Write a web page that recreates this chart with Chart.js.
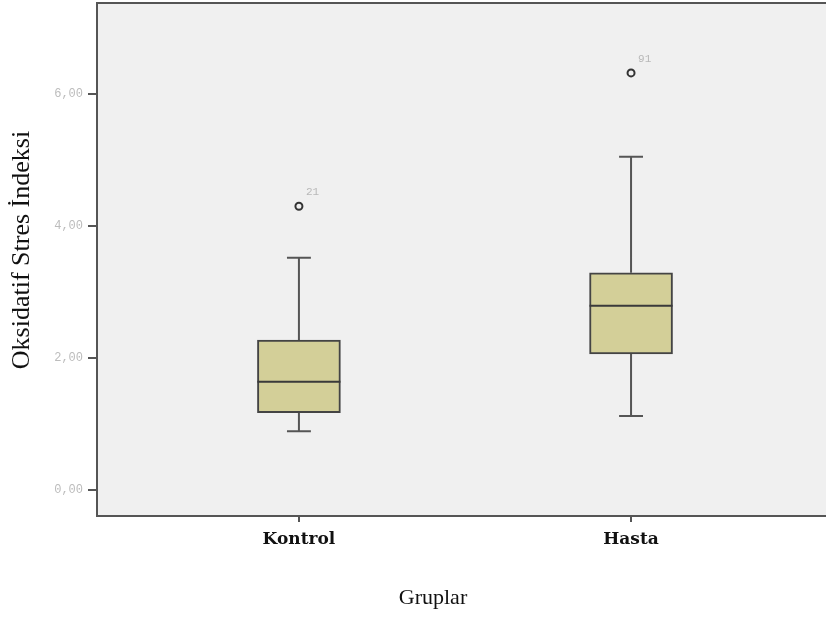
<!DOCTYPE html>
<html>
<head>
<meta charset="utf-8">
<script src="https://cdn.jsdelivr.net/npm/chart.js"></script>
<style>
  html, body { margin: 0; padding: 0; background: #fff; }
  #wrap { width: 826px; height: 619px; }
</style>
</head>
<body>
<div id="wrap"><canvas id="box"></canvas></div>
<script>
// Values
const categories = ["Kontrol", "Hasta"];
const whiskerLow = [0.89, 1.12];
const q1 = [1.17, 2.06];
const median = [1.64, 2.79];
const q3 = [2.27, 3.29];
const whiskerHigh = [3.52, 5.05];
const outliers = [4.30, 6.32];
const outlierIds = ["21", "91"];
const yTicks = [0, 2, 4, 6];

const xPos = categories.map((c, i) => i + 1);
const boxHalf = 0.125;   // half box width, x units
const capHalf = 0.036;   // half whisker cap width

// build segment lists with gaps between them
function segments(fn) {
    const out = [];
    xPos.forEach((x, i) => {
        fn(x, i).forEach(p => out.push(p));
        out.push({ x: x + 0.5, y: null });
    });
    return out;
}

const stems = segments((x, i) => [{ x: x, y: whiskerLow[i] }, { x: x, y: q1[i] }])
    .concat(segments((x, i) => [{ x: x, y: q3[i] }, { x: x, y: whiskerHigh[i] }]));
const caps = segments((x, i) => [{ x: x - capHalf, y: whiskerLow[i] }, { x: x + capHalf, y: whiskerLow[i] }])
    .concat(segments((x, i) => [{ x: x - capHalf, y: whiskerHigh[i] }, { x: x + capHalf, y: whiskerHigh[i] }]));
const medians = segments((x, i) => [{ x: x - boxHalf, y: median[i] }, { x: x + boxHalf, y: median[i] }]);

const plotBg = {
    id: "plotBg",
    beforeDraw(chart) {
        const { ctx, chartArea: a } = chart;
        ctx.save();
        ctx.fillStyle = "#f0f0f0";
        ctx.fillRect(a.left, a.top, a.right - a.left, a.bottom - a.top);
        ctx.strokeStyle = "#555";
        ctx.lineWidth = 2;
        ctx.beginPath();
        ctx.moveTo(a.left, a.top);
        ctx.lineTo(a.right, a.top);
        ctx.stroke();
        ctx.restore();
    },
    afterDraw(chart) {
        const { ctx } = chart;
        ctx.save();
        // outlier case numbers
        const meta = chart.getDatasetMeta(4);
        ctx.font = "11px 'Liberation Mono', monospace";
        ctx.fillStyle = "#b8b8b8";
        ctx.textBaseline = "middle";
        meta.data.forEach((pt, i) => {
            ctx.fillText(outlierIds[i], pt.x + 7, pt.y - 14);
        });
        // axis titles
        ctx.fillStyle = "#111";
        ctx.textAlign = "center";
        ctx.font = "22px 'Liberation Serif', serif";
        ctx.fillText("Gruplar", 433, 598);
        ctx.translate(22, 250);
        ctx.rotate(-Math.PI / 2);
        ctx.font = "26px 'Liberation Serif', serif";
        ctx.fillText("Oksidatif Stres İndeksi", 0, 0);
        ctx.restore();
    }
};

new Chart(document.getElementById("box"), {
    data: {
        datasets: [
            {
                type: "line", data: stems, borderColor: "#555", borderWidth: 2,
                pointRadius: 0, spanGaps: false, order: 4
            },
            {
                type: "line", data: caps, borderColor: "#555", borderWidth: 2,
                pointRadius: 0, spanGaps: false, order: 3
            },
            {
                type: "bar",
                data: xPos.map((x, i) => ({ x: x, y: [q1[i], q3[i]] })),
                backgroundColor: "#d3cf98", borderColor: "#444", borderWidth: 2,
                borderSkipped: false, barThickness: 83, grouped: false, order: 2
            },
            {
                type: "line", data: medians, borderColor: "#3a3a3a", borderWidth: 2,
                pointRadius: 0, spanGaps: false, order: 1
            },
            {
                type: "scatter",
                data: xPos.map((x, i) => ({ x: x, y: outliers[i] })),
                pointStyle: "circle", pointRadius: 3.5, borderWidth: 2,
                borderColor: "#333", backgroundColor: "#f0f0f0", order: 0
            }
        ]
    },
    options: {
        responsive: true,
        maintainAspectRatio: false,
        animation: false,
        layout: { autoPadding: false, padding: { top: 3, right: 0, bottom: 0, left: 0 } },
        plugins: { legend: { display: false }, tooltip: { enabled: false } },
        scales: {
            x: {
                type: "linear", min: 0.392, max: 2.587, offset: false,
                afterBuildTicks: s => { s.ticks = xPos.map(v => ({ value: v })); },
                afterFit: s => { s.height = 103; s.paddingLeft = 0; s.paddingRight = 0; },
                grid: { offset: false, drawOnChartArea: false, drawTicks: true, tickLength: 6, color: "#555", lineWidth: 2 },
                border: { display: true, color: "#555", width: 2 },
                ticks: {
                    padding: 7, color: "#111", maxRotation: 0,
                    font: { family: "'DejaVu Serif', serif", size: 17, weight: "bold" },
                    callback: v => categories[v - 1]
                }
            },
            y: {
                type: "linear", min: -0.394, max: 7.379,
                afterBuildTicks: s => { s.ticks = yTicks.map(v => ({ value: v })); },
                afterFit: s => { s.width = 97; s.paddingTop = 0; s.paddingBottom = 0; },
                grid: { drawOnChartArea: false, drawTicks: true, tickLength: 9, color: "#555", lineWidth: 2 },
                border: { display: true, color: "#555", width: 2 },
                ticks: {
                    padding: 5, color: "#bcbcbc",
                    font: { family: "'Liberation Mono', monospace", size: 12 },
                    callback: v => v.toFixed(2).replace(".", ",")
                }
            }
        }
    },
    plugins: [plotBg]
});
</script>
</body>
</html>
